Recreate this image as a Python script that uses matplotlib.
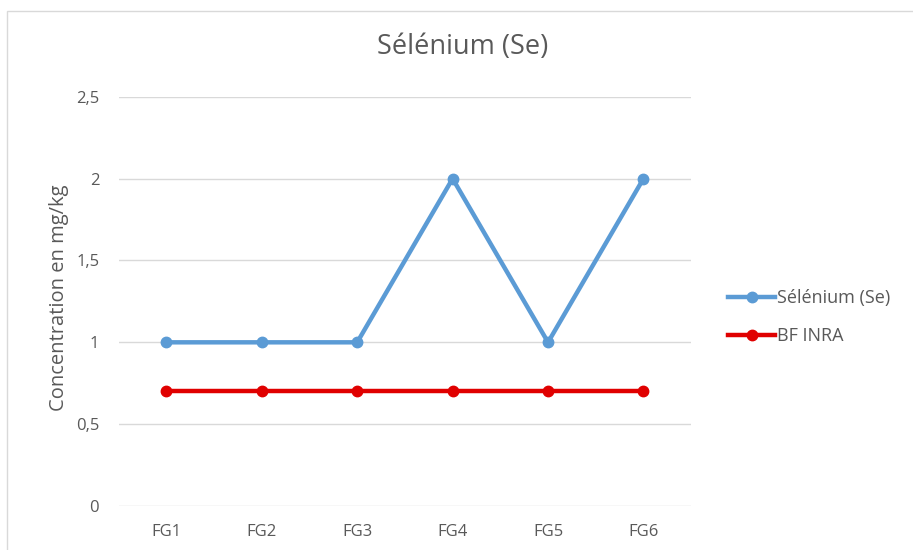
import matplotlib.pyplot as plt
from matplotlib.patches import Rectangle

# données
categories = ['FG1', 'FG2', 'FG3', 'FG4', 'FG5', 'FG6']
selenium = [1, 1, 1, 2, 1, 2]
bf_inra = [0.7, 0.7, 0.7, 0.7, 0.7, 0.7]
yticks = [0, 0.5, 1, 1.5, 2, 2.5]
ytick_labels = ['0', '0,5', '1', '1,5', '2', '2,5']

plt.rcParams['font.family'] = ['Open Sans', 'DejaVu Sans']
gris = '#595959'

fig = plt.figure(figsize=(9.13, 5.5), dpi=100)
ax = fig.add_axes([0.130, 0.080, 0.627, 0.744])

# cadre du graphique
fig.patches.append(Rectangle((7 / 913, -0.01), 1.0, 1 - 11 / 550 + 0.01,
                             transform=fig.transFigure, fill=False,
                             edgecolor='#D9D9D9', linewidth=1.0))

x = range(len(categories))
ax.plot(x, selenium, color='#5B9BD5', linewidth=3.2, marker='o',
        markersize=7.5, label='Sélénium (Se)', zorder=3)
ax.plot(x, bf_inra, color='#E00000', linewidth=3.2, marker='o',
        markersize=7.5, label='BF INRA', zorder=3)

ax.set_xlim(-0.5, len(categories) - 0.5)
ax.set_ylim(0, 2.5)
ax.set_xticks(list(x))
ax.set_xticklabels(categories)
ax.set_yticks(yticks)
ax.set_yticklabels(ytick_labels)
ax.tick_params(length=0, labelsize=12, colors=gris)
ax.tick_params(axis='x', pad=13)
ax.tick_params(axis='y', pad=14)
ax.grid(axis='y', color='#D9D9D9', linewidth=1)
ax.set_axisbelow(True)
for s in ax.spines.values():
    s.set_visible(False)

ax.set_ylabel('Concentration en mg/kg', fontsize=14.5, color=gris)
ax.yaxis.set_label_coords(-0.086, 0.509)
fig.text(463 / 913, 1 - 47 / 550, 'Sélénium (Se)', fontsize=19.5, color=gris,
         ha='center', va='center')

fig.legend(loc='center left', bbox_to_anchor=(712 / 913, 1 - 317 / 550),
           frameon=False, fontsize=13, labelcolor=gris, handlelength=2.6,
           handletextpad=0.1, labelspacing=1.1)

fig.savefig('out.png', dpi=100)
